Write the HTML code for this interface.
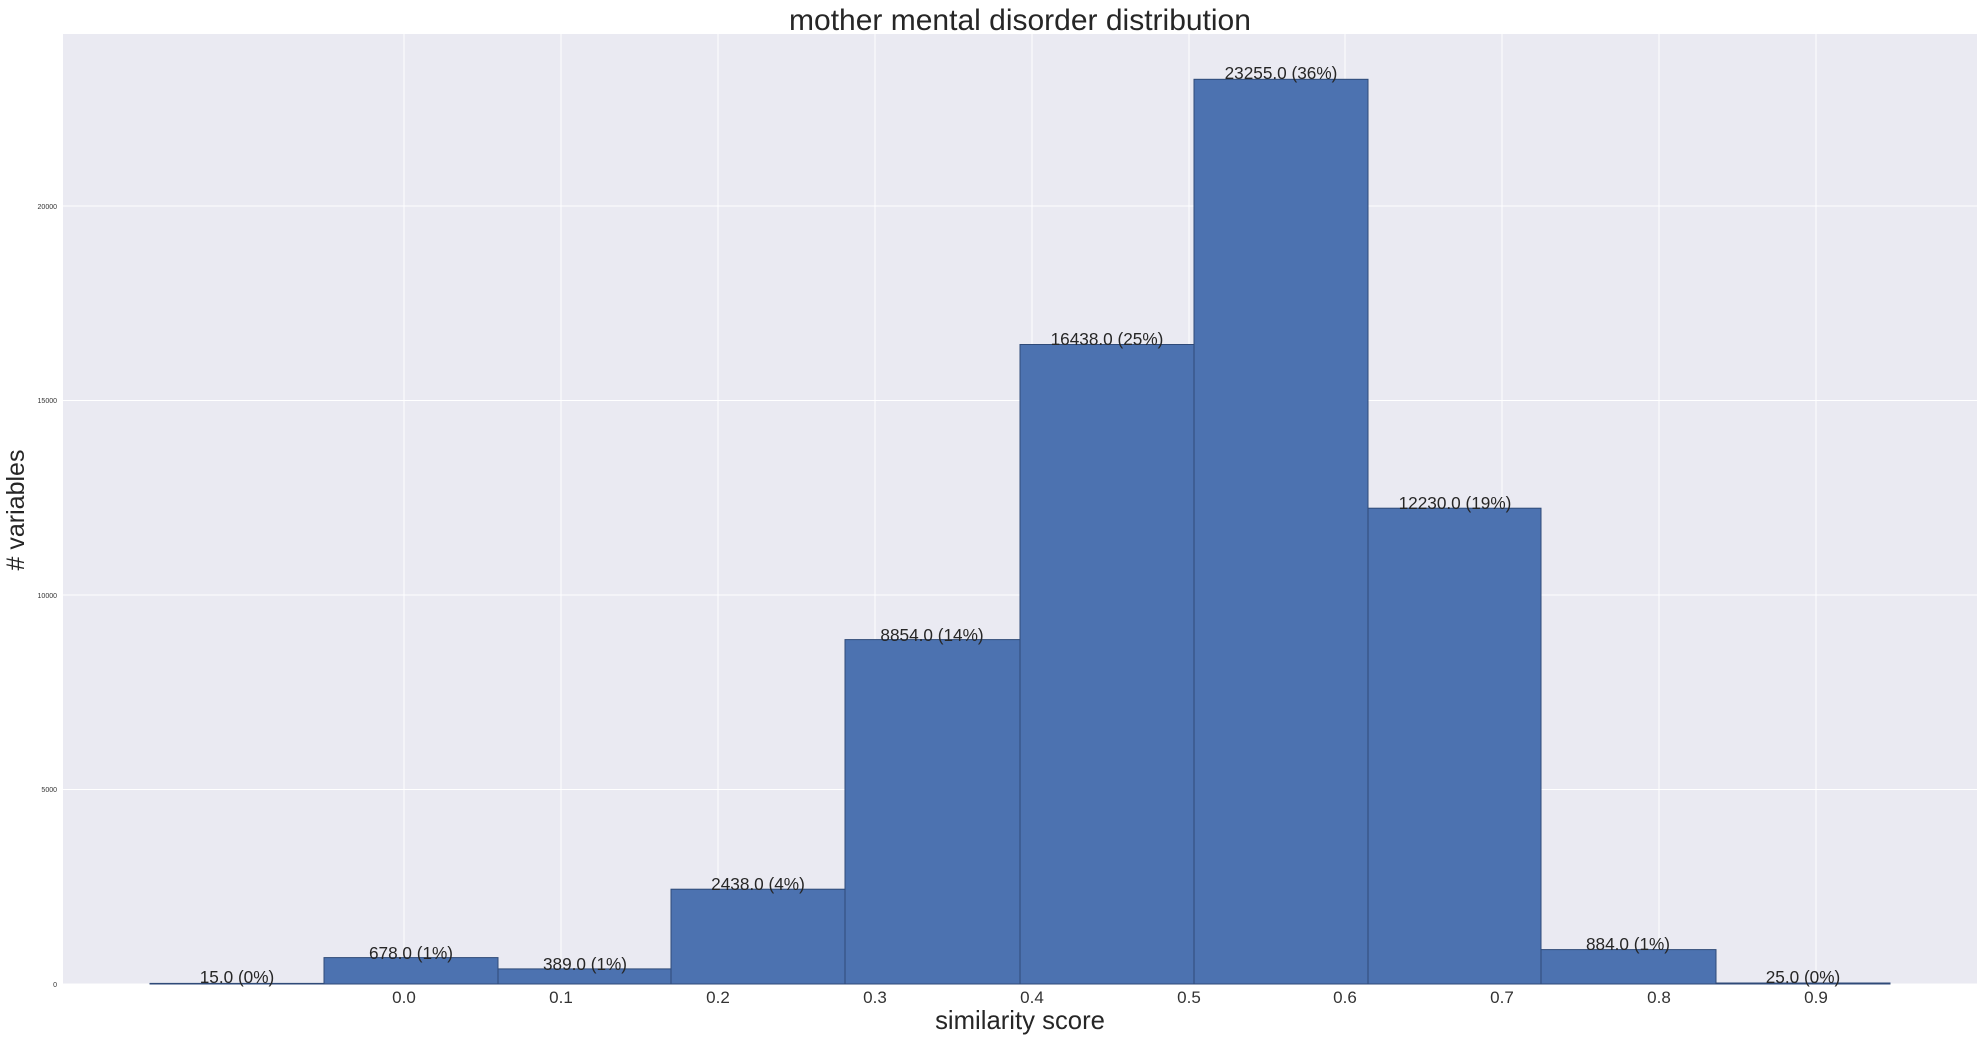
<!DOCTYPE html>
<html><head><meta charset="utf-8"><style>
html,body{margin:0;padding:0;background:#fff;}
svg{display:block;font-family:"Liberation Sans",Arial,sans-serif;}
</style></head><body>
<svg width="1981" height="1039" viewBox="0 0 1981 1039" xmlns="http://www.w3.org/2000/svg">
<rect x="63" y="34" width="1914" height="950" fill="#eaeaf2"/>
<g stroke="#ffffff" stroke-width="0.9">
<line x1="63" x2="1977" y1="984" y2="984"/>
<line x1="63" x2="1977" y1="789.5" y2="789.5"/>
<line x1="63" x2="1977" y1="595" y2="595"/>
<line x1="63" x2="1977" y1="400.5" y2="400.5"/>
<line x1="63" x2="1977" y1="206" y2="206"/>
<line x1="404" x2="404" y1="34" y2="984"/>
<line x1="561" x2="561" y1="34" y2="984"/>
<line x1="718" x2="718" y1="34" y2="984"/>
<line x1="875" x2="875" y1="34" y2="984"/>
<line x1="1032" x2="1032" y1="34" y2="984"/>
<line x1="1189" x2="1189" y1="34" y2="984"/>
<line x1="1345" x2="1345" y1="34" y2="984"/>
<line x1="1502" x2="1502" y1="34" y2="984"/>
<line x1="1659" x2="1659" y1="34" y2="984"/>
<line x1="1816" x2="1816" y1="34" y2="984"/>
</g>
<g fill="#4c72b0" stroke="#2f4a78" stroke-width="1">
<rect x="150" y="983.4" width="174" height="0.6"/>
<rect x="324" y="957.6" width="174" height="26.4"/>
<rect x="498" y="968.9" width="173" height="15.1"/>
<rect x="671" y="889.2" width="174" height="94.8"/>
<rect x="845" y="639.6" width="175" height="344.4"/>
<rect x="1020" y="344.5" width="174" height="639.5"/>
<rect x="1194" y="79.3" width="174" height="904.7"/>
<rect x="1368" y="508.2" width="173" height="475.8"/>
<rect x="1541" y="949.6" width="175" height="34.4"/>
<rect x="1716" y="983" width="174" height="1.0"/>
</g>
<g font-size="17.2" fill="#262626" text-anchor="middle">
<text x="237" y="983">15.0 (0%)</text>
<text x="411" y="959">678.0 (1%)</text>
<text x="585" y="970">389.0 (1%)</text>
<text x="758" y="890">2438.0 (4%)</text>
<text x="932" y="641">8854.0 (14%)</text>
<text x="1107" y="345">16438.0 (25%)</text>
<text x="1281" y="79">23255.0 (36%)</text>
<text x="1455" y="509">12230.0 (19%)</text>
<text x="1628" y="950">884.0 (1%)</text>
<text x="1803" y="983">25.0 (0%)</text>
</g>
<g font-size="17" fill="#333" text-anchor="middle">
<text x="404" y="1003">0.0</text>
<text x="561" y="1003">0.1</text>
<text x="718" y="1003">0.2</text>
<text x="875" y="1003">0.3</text>
<text x="1032" y="1003">0.4</text>
<text x="1189" y="1003">0.5</text>
<text x="1345" y="1003">0.6</text>
<text x="1502" y="1003">0.7</text>
<text x="1659" y="1003">0.8</text>
<text x="1816" y="1003">0.9</text>
</g>
<g font-size="7" fill="#333" text-anchor="end">
<text x="57" y="987">0</text>
<text x="57" y="792">5000</text>
<text x="57" y="598">10000</text>
<text x="57" y="403">15000</text>
<text x="57" y="209">20000</text>
</g>
<text x="1020" y="30" font-size="30" fill="#262626" text-anchor="middle">mother mental disorder distribution</text>
<text x="1020" y="1029" font-size="25.7" fill="#262626" text-anchor="middle">similarity score</text>
<text transform="translate(24,510) rotate(-90)" font-size="25" fill="#262626" text-anchor="middle"># variables</text>
</svg>
</body></html>
